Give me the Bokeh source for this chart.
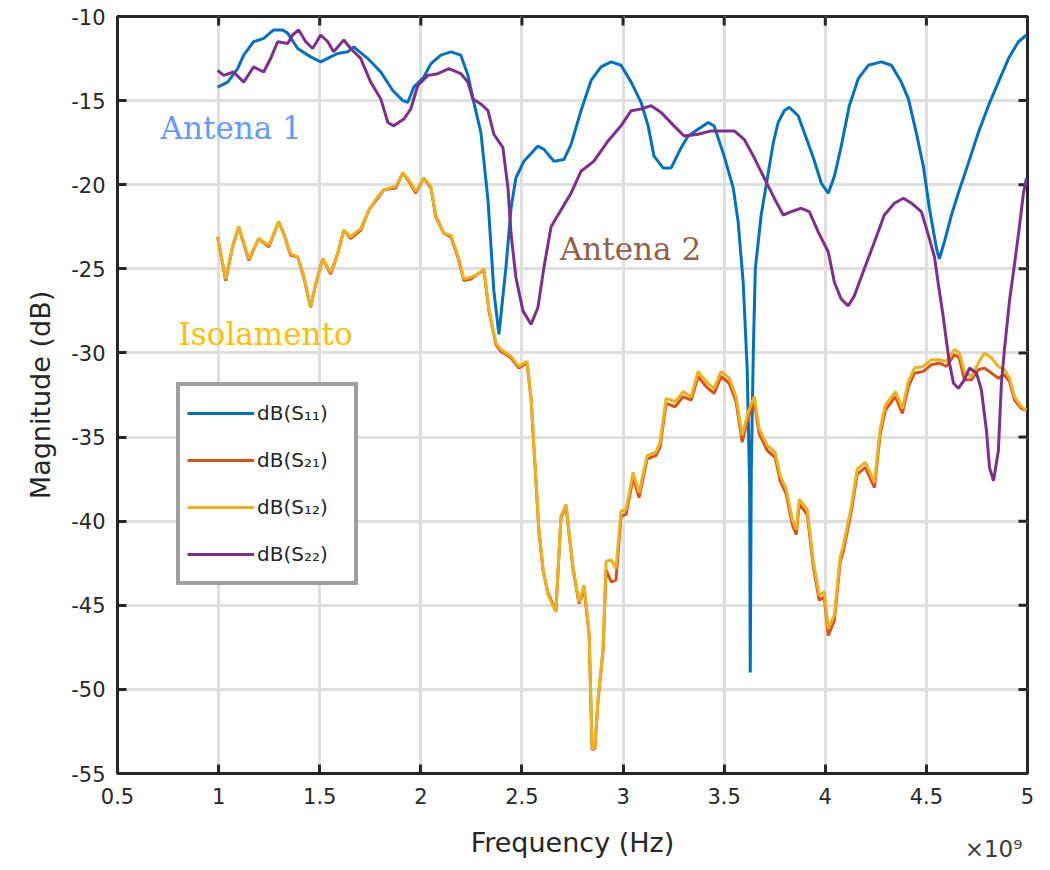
from bokeh.plotting import figure
from bokeh.models import (Range1d, FixedTicker, NumeralTickFormatter, CustomJSTickFormatter,
                          LinearAxis, Legend, LegendItem, Label)
from bokeh.embed import file_html
from bokeh.resources import INLINE

# ---------------- data (frequency in units of 1e9 Hz, magnitude in dB) ----------------
s11_freq = [0.995, 1.045, 1.094, 1.124, 1.173, 1.223, 1.272, 1.317, 1.342, 1.391, 1.455, 1.505,
            1.554, 1.589, 1.639, 1.668, 1.738, 1.802, 1.861, 1.911, 1.936, 1.965, 2.015, 2.050,
            2.099, 2.149, 2.198, 2.233, 2.262, 2.297, 2.332, 2.361, 2.386, 2.421, 2.446, 2.470,
            2.510, 2.579, 2.609, 2.658, 2.708, 2.743, 2.792, 2.842, 2.891, 2.941, 2.990, 3.040,
            3.089, 3.124, 3.153, 3.198, 3.238, 3.287, 3.322, 3.371, 3.421, 3.450, 3.500, 3.545,
            3.569, 3.594, 3.614, 3.626, 3.629, 3.634, 3.644, 3.654, 3.683, 3.718, 3.743, 3.767,
            3.797, 3.822, 3.866, 3.896, 3.941, 3.980, 4.015, 4.045, 4.079, 4.119, 4.163, 4.213,
            4.277, 4.327, 4.376, 4.411, 4.450, 4.485, 4.515, 4.550, 4.564, 4.589, 4.624, 4.658,
            4.708, 4.757, 4.807, 4.856, 4.906, 4.955, 4.995]
s11_db = [-14.2, -13.9, -13.1, -12.3, -11.5, -11.3, -10.8, -10.8, -11.0, -11.9, -12.4, -12.7,
          -12.4, -12.2, -12.1, -11.8, -12.5, -13.3, -14.4, -15.0, -15.1, -14.2, -13.6, -12.8,
          -12.3, -12.1, -12.3, -13.5, -15.1, -16.9, -20.9, -26.3, -28.9, -24.9, -21.4, -19.6,
          -18.6, -17.7, -17.9, -18.6, -18.5, -17.6, -15.6, -13.8, -13.0, -12.7, -12.9, -13.9,
          -15.1, -16.5, -18.3, -19.0, -19.0, -17.8, -17.1, -16.7, -16.3, -16.5, -18.3, -20.2,
          -22.2, -25.8, -31.0, -38.0, -49.0, -37.0, -30.0, -25.0, -21.8, -19.3, -17.5, -16.3,
          -15.6, -15.4, -15.9, -16.9, -18.4, -19.9, -20.5, -19.5, -17.7, -15.3, -13.7, -12.9,
          -12.7, -12.9, -13.9, -14.9, -16.9, -18.9, -21.4, -23.8, -24.4, -23.4, -21.8, -20.5,
          -18.7, -16.9, -15.3, -13.9, -12.5, -11.5, -11.1]

s21_freq = [0.995, 1.035, 1.069, 1.099, 1.149, 1.198, 1.248, 1.297, 1.322, 1.356, 1.391, 1.421,
            1.455, 1.480, 1.515, 1.554, 1.589, 1.619, 1.653, 1.703, 1.743, 1.787, 1.817, 1.876,
            1.911, 1.941, 1.975, 2.015, 2.050, 2.074, 2.114, 2.149, 2.183, 2.213, 2.248, 2.282,
            2.312, 2.337, 2.371, 2.396, 2.446, 2.485, 2.525, 2.545, 2.564, 2.584, 2.604, 2.629,
            2.668, 2.693, 2.718, 2.752, 2.782, 2.807, 2.832, 2.847, 2.861, 2.876, 2.901, 2.916,
            2.941, 2.965, 2.990, 3.015, 3.050, 3.079, 3.119, 3.163, 3.183, 3.213, 3.257, 3.297,
            3.337, 3.371, 3.411, 3.450, 3.485, 3.525, 3.559, 3.589, 3.619, 3.649, 3.673, 3.713,
            3.752, 3.777, 3.807, 3.837, 3.856, 3.871, 3.911, 3.941, 3.970, 3.995, 4.015, 4.045,
            4.074, 4.089, 4.129, 4.158, 4.198, 4.243, 4.272, 4.297, 4.347, 4.381, 4.411, 4.441,
            4.485, 4.525, 4.564, 4.599, 4.639, 4.663, 4.688, 4.723, 4.757, 4.787, 4.822, 4.856,
            4.886, 4.911, 4.936, 4.970, 4.995]
s21_db = [-23.1, -25.7, -23.7, -22.5, -24.5, -23.2, -23.7, -22.2, -22.9, -24.2, -24.3, -25.5,
          -27.3, -25.9, -24.4, -25.3, -24.1, -22.7, -23.2, -22.7, -21.5, -20.8, -20.3, -20.2,
          -19.3, -19.8, -20.5, -19.6, -20.2, -21.9, -22.9, -23.1, -24.3, -25.7, -25.6, -25.3,
          -25.1, -27.5, -29.5, -29.9, -30.3, -30.9, -30.6, -32.7, -36.6, -40.6, -42.9, -44.3,
          -45.3, -39.8, -39.1, -42.8, -44.9, -44.0, -46.7, -53.6, -53.5, -50.7, -47.7, -42.9,
          -43.6, -43.5, -39.7, -39.6, -37.4, -38.6, -36.3, -36.1, -35.6, -33.0, -33.2, -32.6,
          -32.8, -31.4, -32.0, -32.4, -31.4, -31.8, -32.9, -35.3, -33.8, -32.9, -34.8, -35.8,
          -36.2, -37.6, -38.4, -40.2, -40.8, -39.0, -39.6, -42.7, -44.7, -44.5, -46.8, -45.9,
          -42.4, -41.8, -39.4, -37.2, -36.8, -38.0, -34.8, -33.4, -32.6, -33.6, -32.0, -31.2,
          -31.1, -30.7, -30.6, -30.8, -30.1, -30.3, -31.6, -31.6, -31.0, -30.9, -31.2, -31.5,
          -31.3, -31.7, -32.8, -33.3, -33.4]

s12_freq = list(s21_freq)
s12_db = [-23.1, -25.6, -23.7, -22.5, -24.4, -23.2, -23.6, -22.2, -22.9, -24.1, -24.3, -25.4,
          -27.3, -25.9, -24.4, -25.2, -24.1, -22.7, -23.1, -22.6, -21.5, -20.7, -20.3, -20.1,
          -19.3, -19.7, -20.4, -19.6, -20.1, -21.8, -22.9, -23.0, -24.2, -25.6, -25.5, -25.3,
          -25.0, -27.4, -29.4, -29.8, -30.2, -30.8, -30.5, -32.6, -36.5, -40.5, -42.8, -44.4,
          -45.4, -39.7, -39.0, -42.7, -44.8, -43.8, -46.6, -53.6, -53.4, -50.6, -47.6, -42.4,
          -42.3, -42.8, -39.4, -39.3, -37.1, -38.3, -36.1, -35.9, -35.3, -32.7, -32.9, -32.3,
          -32.6, -31.1, -31.7, -32.1, -31.1, -31.5, -32.6, -34.9, -33.5, -32.6, -34.5, -35.5,
          -35.9, -37.3, -38.1, -39.9, -40.5, -38.7, -39.3, -42.4, -44.4, -44.2, -46.4, -45.6,
          -42.1, -41.5, -39.1, -36.9, -36.5, -37.7, -34.5, -33.1, -32.3, -33.3, -31.7, -30.9,
          -30.8, -30.4, -30.4, -30.5, -29.8, -30.0, -31.1, -31.4, -30.6, -30.0, -30.3, -30.8,
          -31.0, -31.5, -32.6, -33.2, -33.4]

s22_freq = [0.995, 1.025, 1.074, 1.124, 1.173, 1.223, 1.257, 1.292, 1.342, 1.366, 1.396, 1.431,
            1.465, 1.505, 1.540, 1.569, 1.619, 1.653, 1.703, 1.752, 1.802, 1.837, 1.866, 1.916,
            1.950, 1.985, 2.035, 2.084, 2.139, 2.198, 2.233, 2.257, 2.297, 2.332, 2.361, 2.406,
            2.431, 2.446, 2.470, 2.505, 2.545, 2.579, 2.609, 2.644, 2.693, 2.743, 2.792, 2.856,
            2.926, 2.990, 3.040, 3.089, 3.139, 3.188, 3.252, 3.302, 3.371, 3.436, 3.550, 3.599,
            3.649, 3.698, 3.748, 3.792, 3.832, 3.881, 3.921, 3.965, 4.015, 4.045, 4.079, 4.114,
            4.144, 4.193, 4.243, 4.292, 4.342, 4.386, 4.426, 4.475, 4.510, 4.540, 4.559, 4.584,
            4.599, 4.614, 4.634, 4.658, 4.688, 4.713, 4.748, 4.772, 4.797, 4.812, 4.832, 4.856,
            4.871, 4.886, 4.911, 4.936, 4.960, 4.980, 4.995]
s22_db = [-13.2, -13.5, -13.3, -13.9, -13.0, -13.3, -12.5, -11.5, -11.6, -11.1, -10.8, -11.5,
          -11.9, -11.1, -11.5, -12.1, -11.4, -11.9, -12.5, -13.9, -14.9, -16.3, -16.5, -16.1,
          -15.5, -14.1, -13.5, -13.4, -13.1, -13.4, -13.9, -14.9, -15.2, -15.6, -17.0, -17.8,
          -20.2, -22.9, -25.5, -27.5, -28.3, -27.3, -24.9, -22.5, -21.5, -20.5, -19.2, -18.6,
          -17.4, -16.5, -15.6, -15.5, -15.3, -15.7, -16.5, -17.1, -17.0, -16.8, -16.8, -17.3,
          -18.4, -19.6, -20.8, -21.8, -21.6, -21.4, -21.6, -22.8, -24.0, -25.8, -26.8, -27.2,
          -26.6, -25.0, -23.4, -21.8, -21.1, -20.8, -21.1, -21.6, -23.0, -24.3, -25.9, -27.9,
          -29.3, -30.6, -31.8, -32.1, -31.6, -30.9, -31.2, -32.2, -34.6, -36.8, -37.6, -35.8,
          -31.8, -29.8, -26.9, -24.7, -22.5, -20.5, -19.6]

x_ticks = [0.5, 1, 1.5, 2, 2.5, 3, 3.5, 4, 4.5, 5]
y_ticks = [-55, -50, -45, -40, -35, -30, -25, -20, -15, -10]
legend_labels = ["dB(S\u2081\u2081)", "dB(S\u2082\u2081)", "dB(S\u2081\u2082)", "dB(S\u2082\u2082)"]
annotations = [("Antena 1", 0.713, -16.65, "#6699FF"),
               ("Antena 2", 2.688, -23.8, "#94604E"),
               ("Isolamento", 0.802, -28.85, "#FFC000")]
exponent_text = "\u00d710\u2079"
exponent_pos = 4.832   # centre of the exponent text along the frequency axis

# ---------------- figure ----------------
TXT = "#262626"
W, H = 1042, 870
BL, BR, BT, BB = 117, 15, 16, 97
p = figure(width=W, height=H, output_backend="svg", toolbar_location=None,
           x_range=Range1d(0.5, 5), y_range=Range1d(-55, -10),
           min_border_left=BL, min_border_right=BR, min_border_top=BT, min_border_bottom=BB,
           background_fill_color="white", border_fill_color="white")
p.outline_line_color = TXT
p.outline_line_width = 3

p.xaxis.ticker = FixedTicker(ticks=x_ticks)
p.yaxis.ticker = FixedTicker(ticks=y_ticks)
p.xaxis.formatter = NumeralTickFormatter(format="0.[0]")
p.yaxis.major_label_overrides = {t: str(t) for t in y_ticks}
p.xaxis.axis_label = "Frequency (Hz)"
p.yaxis.axis_label = "Magnitude (dB)"
for ax in (p.xaxis[0], p.yaxis[0]):
    ax.axis_line_color = TXT
    ax.axis_line_width = 3
    ax.major_tick_in = 9
    ax.major_tick_out = 0
    ax.major_tick_line_color = TXT
    ax.major_tick_line_width = 3
    ax.minor_tick_line_color = None
    ax.major_label_text_font = "DejaVu Sans"
    ax.major_label_text_font_size = "21px"
    ax.major_label_text_color = TXT
    ax.axis_label_text_font = "DejaVu Sans"
    ax.axis_label_text_font_size = "27px"
    ax.axis_label_text_font_style = "normal"
    ax.axis_label_text_color = TXT
p.xaxis.major_label_standoff = 14
p.xaxis.axis_label_standoff = 20
p.yaxis.major_label_standoff = 12
p.yaxis.axis_label_standoff = 12

# exponent of the frequency axis: a second, line-less axis whose single label is
# pulled up (negative standoff) onto the row of the axis title
exp_axis = LinearAxis(ticker=FixedTicker(ticks=[exponent_pos]),
                      formatter=CustomJSTickFormatter(code="return '%s'" % exponent_text),
                      major_label_standoff=-25, major_tick_in=0, major_tick_out=0,
                      axis_line_color=None, major_tick_line_color=None,
                      minor_tick_line_color=None,
                      major_label_text_font="DejaVu Sans", major_label_text_font_size="23px",
                      major_label_text_color="#3c3c3c")
p.add_layout(exp_axis, "below")

p.xgrid.ticker = FixedTicker(ticks=x_ticks)
p.ygrid.ticker = FixedTicker(ticks=y_ticks)
for g in (p.xgrid[0], p.ygrid[0]):
    g.grid_line_color = "#dfdfdf"
    g.grid_line_width = 3

# inward tick marks on the top and right edges of the box (9 px long)
fw, fh = W - BL - BR, H - BT - BB
tlx = 9 * (p.x_range.end - p.x_range.start) / fw
tly = 9 * (p.y_range.end - p.y_range.start) / fh
p.segment(x0=x_ticks, x1=x_ticks, y0=[p.y_range.end] * len(x_ticks),
          y1=[p.y_range.end - tly] * len(x_ticks), line_color=TXT, line_width=3)
p.segment(x0=[p.x_range.end] * len(y_ticks), x1=[p.x_range.end - tlx] * len(y_ticks),
          y0=y_ticks, y1=y_ticks, line_color=TXT, line_width=3)

r11 = p.line(s11_freq, s11_db, line_color="#0072BD", line_width=3)
r21 = p.line(s21_freq, s21_db, line_color="#D95319", line_width=3)
r12 = p.line(s12_freq, s12_db, line_color="#EDB120", line_width=3)
r22 = p.line(s22_freq, s22_db, line_color="#7E2F8E", line_width=3)

legend = Legend(items=[LegendItem(label=l, renderers=[r]) for l, r in
                       zip(legend_labels, [r11, r21, r12, r22])],
                location=(59, 188), orientation="vertical",
                glyph_width=67, glyph_height=40, label_height=40, label_width=90,
                spacing=7, padding=7, label_standoff=3, margin=0,
                label_text_font="DejaVu Sans", label_text_font_size="20px",
                label_text_color=TXT,
                border_line_color="#404040", border_line_width=4,
                background_fill_color="white", background_fill_alpha=1)
p.add_layout(legend)

for txt, x, y, col in annotations:
    p.add_layout(Label(x=x, y=y, text=txt, text_color=col, text_font="DejaVu Serif",
                       text_font_size="31px", text_baseline="alphabetic", text_align="left"))

open("out.html", "w").write(file_html(p, INLINE))
